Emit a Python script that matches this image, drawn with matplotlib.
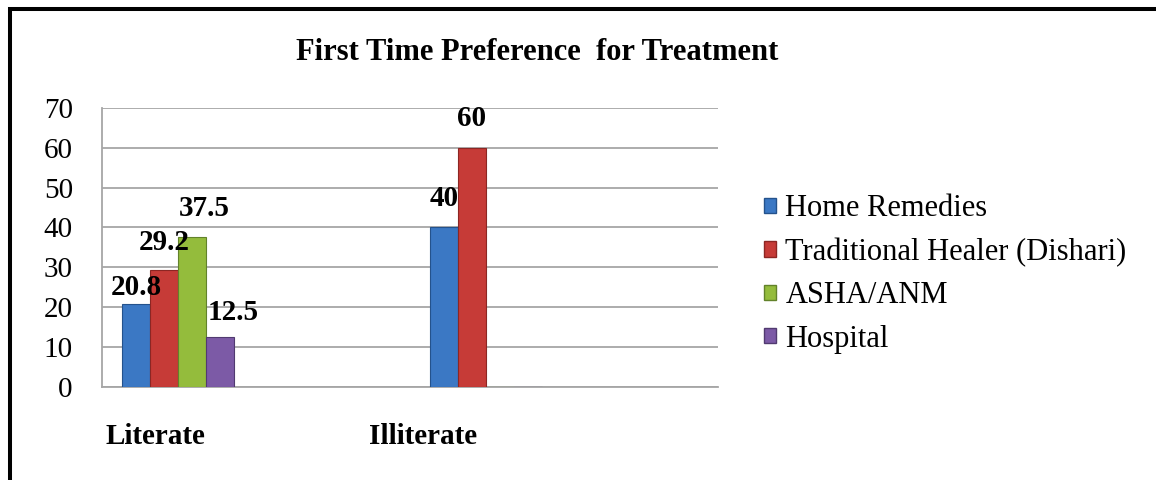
import numpy as np
import matplotlib
matplotlib.use('Agg')
import matplotlib.pyplot as plt
from matplotlib.patches import Patch, Rectangle

# data
gruppen = ['Literate', 'Illiterate']
serien = ['Home Remedies', 'Traditional Healer (Dishari)', 'ASHA/ANM', 'Hospital']
home = [20.8, 40]
healer = [29.2, 60]
asha = [37.5, 0]
hospital = [12.5, 0]
werte = [home, healer, asha, hospital]
yticks = [0, 10, 20, 30, 40, 50, 60, 70]

farben = ['#3b78c4', '#c63b37', '#94bc3c', '#7c5aa6']
kanten = ['#24528c', '#8c2623', '#62822a', '#513a70']

# label shifts in pixels (dx, dy above bar top)
label_shift = [[(0, 17), (0, 29)],
               [(0, 28), (0, 29)],
               [(12, 29), (0, 0)],
               [(13, 25), (0, 0)]]

plt.rcParams['font.family'] = ['Liberation Serif', 'DejaVu Serif']

fig = plt.figure(figsize=(11.56, 4.8), dpi=100)
ax = fig.add_axes([102/1156, 93/480, 616/1156, 279.3/480])

x = np.arange(len(gruppen))
width = 28/308  # bar width in category units

for i, (name, vals) in enumerate(zip(serien, werte)):
    pos = x + (i - 1.5) * width
    ax.bar(pos, vals, width, color=farben[i], edgecolor=kanten[i], linewidth=0.8, zorder=3)
    for j, v in enumerate(vals):
        if v == 0:
            continue
        dx, dy = label_shift[i][j]
        ax.annotate(f'{v:g}', (pos[j], v), xytext=(dx*0.72, dy*0.72), textcoords='offset points',
                    ha='center', va='center', fontsize=21, fontweight='bold', zorder=5)

ax.set_xlim(-76/308, -76/308 + 616/308)
ax.set_ylim(0, 70)
ax.set_yticks(yticks)
ax.set_yticklabels([str(t) for t in yticks], fontsize=21)
ax.yaxis.grid(True, color='#a6a6a6', linewidth=1.3, zorder=0)
ax.tick_params(axis='y', length=0, pad=21)

# category labels sit a bit left of the bar groups
ax.set_xticks([-23/308, 1 - 63/308])
ax.set_xticklabels(gruppen, fontsize=21, fontweight='bold')
ax.tick_params(axis='x', length=0, pad=26)

for s in ['top', 'right']:
    ax.spines[s].set_visible(False)
for s in ['left', 'bottom']:
    ax.spines[s].set_color('#a6a6a6')
    ax.spines[s].set_linewidth(1.3)

# title
fig.text(537/1156, 1 - 53/480, 'First Time Preference  for Treatment',
         ha='center', va='center', fontsize=22, fontweight='bold')

# legend
handles = [Patch(facecolor=farben[i], edgecolor=kanten[i], label=serien[i]) for i in range(4)]
fig.legend(handles=handles, loc='center left', bbox_to_anchor=(764/1156, 1 - 274/480),
           frameon=False, fontsize=22, handlelength=0.4, handleheight=0.4,
           handletextpad=0.3, labelspacing=0.47, borderpad=0, borderaxespad=0)

# black frame on top and left
fig.add_artist(Rectangle((9.5/1156, -0.2), 1.5, 1.2 - 9/480, transform=fig.transFigure,
                         fill=False, edgecolor='black', linewidth=2.9))

fig.savefig('out.png', dpi=100)
